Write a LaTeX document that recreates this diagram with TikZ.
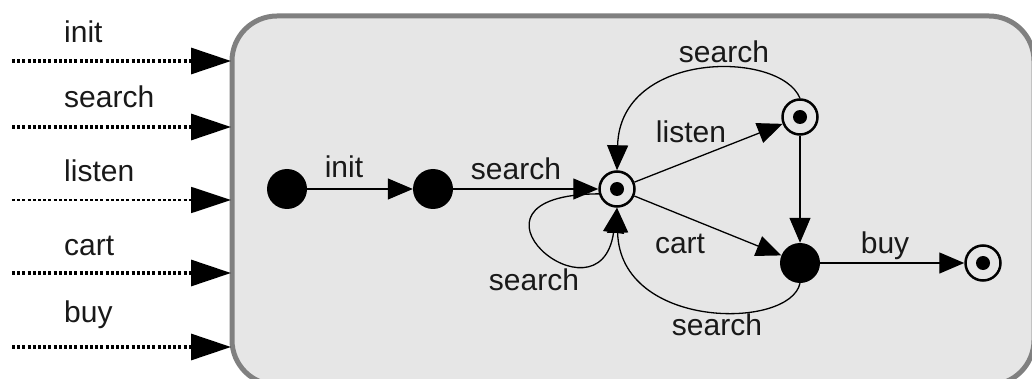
\documentclass[tikz,border=0pt]{standalone}
\usepackage{fontspec}
\setmainfont{Liberation Sans}
\usetikzlibrary{arrows.meta}
\definecolor{boxfill}{RGB}{230,230,230}
\definecolor{boxline}{RGB}{128,128,128}
\begin{document}
\begin{tikzpicture}[x=1pt,y=-1pt,
  lbl/.style={font=\fontsize{30}{34}\selectfont, anchor=base, inner sep=0pt, text=black!90},
  lblw/.style={lbl, anchor=base west},
  full/.style={circle, fill=black, minimum size=40pt, inner sep=0pt},
  fin/.style={circle, draw=black, line width=2.5pt, minimum size=35pt, inner sep=0pt,
    path picture={\fill[black] (path picture bounding box.center) circle (7pt);}},
  edge/.style={line width=1.3pt, -{Triangle[length=25pt,width=21pt]}},
  inarr/.style={line width=3.2pt, dash pattern=on 3pt off 2.2pt, -{Triangle[length=40pt,width=26pt]}},
  inarrthin/.style={inarr, line width=1.8pt}
]
\useasboundingbox (0,0) rectangle (1032,379);
% outer state box
\draw[line width=5pt, draw=boxline, fill=boxfill, rounded corners=45pt] (232,16) rectangle (1034,385);

% incoming event arrows
\coordinate (a1) at (12,61);  \coordinate (b1) at (231,61);
\coordinate (a2) at (12,127); \coordinate (b2) at (231,127);
\coordinate (a3) at (12,200); \coordinate (b3) at (231,200);
\coordinate (a4) at (12,273); \coordinate (b4) at (231,273);
\coordinate (a5) at (12,347); \coordinate (b5) at (231,347);
\draw[inarr] (a1) -- (b1);
\draw[inarr] (a2) -- (b2);
\draw[inarrthin] (a3) -- (b3);
\draw[inarr] (a4) -- (b4);
\draw[inarr] (a5) -- (b5);
\node[lblw] (t1) at (64,43) {init};
\node[lblw] (t2) at (64,108) {search};
\node[lblw] (t3) at (64,182) {listen};
\node[lblw] (t4) at (64,255) {cart};
\node[lblw] (t5) at (64,322) {buy};

% states
\node[full] (s1) at (287,189) {};
\node[full] (s2) at (433,189) {};
\node[fin]  (s3) at (617,189) {};
\node[fin]  (s4) at (800,117) {};
\node[full] (s5) at (800,263) {};
\node[fin]  (s6) at (983,263) {};

% transitions
\draw[edge] (s1) -- (s2);
\draw[edge] (s2) -- (s3);
\draw[edge] (s3) -- (s4);
\draw[edge] (s3) -- (s5);
\draw[edge] (s4) -- (s5);
\draw[edge] (s5) -- (s6);
\draw[edge] (s4.north) .. controls (780,50) and (620,50) .. (s3.north);
\draw[edge] (s3.195) .. controls (440,195) and (600,330) .. (s3.south);
\draw[edge] (s5.south) .. controls (790,330) and (620,330) .. (s3.south);

% transition labels
\node[lbl] (e1) at (344,178) {init};
\node[lbl] (e2) at (516,180) {search};
\node[lbl] (e3) at (691,143) {listen};
\node[lbl] (e4) at (680,253) {cart};
\node[lbl] (e5) at (885,253) {buy};
\node[lbl] (e6) at (724,63) {search};
\node[lbl] (e7) at (534,290) {search};
\node[lbl] (e8) at (717,335) {search};
\end{tikzpicture}
\end{document}
